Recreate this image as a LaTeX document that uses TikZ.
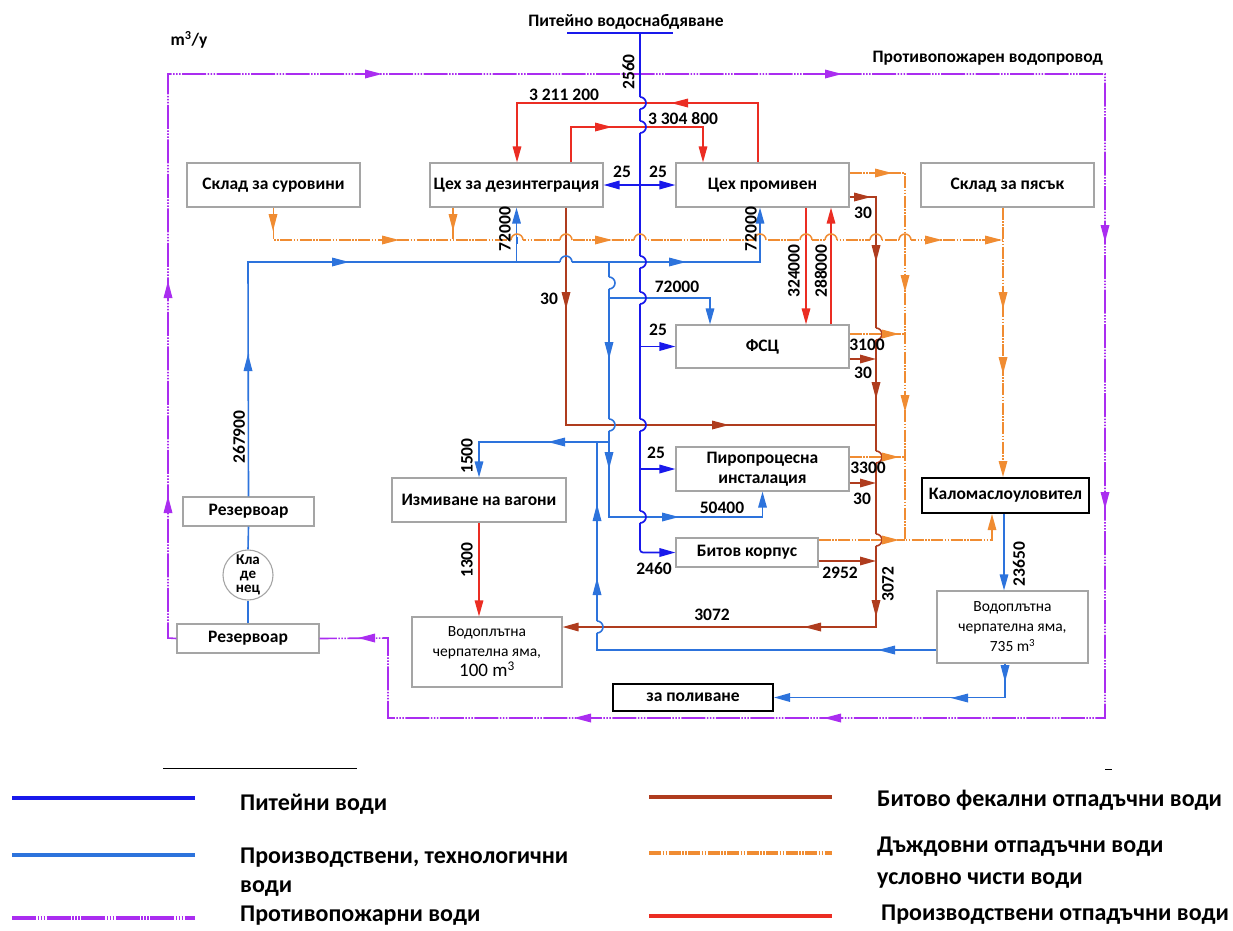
\documentclass[tikz,border=0pt]{standalone}
\usepackage{fontspec}
\setmainfont{Carlito}
\usetikzlibrary{arrows.meta}

\definecolor{cpot}{RGB}{25,25,235}
\definecolor{ctech}{RGB}{45,115,220}
\definecolor{cfire}{RGB}{170,45,240}
\definecolor{cfec}{RGB}{175,60,30}
\definecolor{crain}{RGB}{240,140,50}
\definecolor{cprod}{RGB}{235,45,35}
\definecolor{cbox}{RGB}{165,165,165}

\newcommand\diaglbl{\bfseries\fontsize{17.5}{19}\selectfont}
\newcommand\leglbl{\bfseries\fontsize{24}{29}\selectfont}

\tikzset{
  pot/.style={color=cpot, line width=1.7pt},
  tech/.style={color=ctech, line width=1.6pt},
  fire/.style={color=cfire, line width=1.6pt,
    dash pattern=on 24pt off 1.5pt on 1.5pt off 1.5pt on 1.5pt off 1.5pt on 1.5pt off 1.5pt},
  fec/.style={color=cfec, line width=1.6pt},
  rain/.style={color=crain, line width=1.5pt,
    dash pattern=on 12pt off 1.5pt on 1.5pt off 1.5pt on 1.5pt off 1.5pt},
  prod/.style={color=cprod, line width=1.5pt},
  ahead/.style={-{Triangle[length=16pt,width=8.5pt]}},
  unit/.style={draw=cbox, line width=1.1pt, fill=white, inner sep=0pt,
    minimum width=173pt, minimum height=44pt, font=\diaglbl},
  boldbox/.style={draw=black, line width=2pt, fill=white, inner sep=0pt, font=\diaglbl},
  pit/.style={draw=cbox, line width=1.1pt, fill=white, inner sep=0pt, align=center,
    font=\fontsize{15.5}{20}\selectfont},
  num/.style={inner sep=0pt, font=\diaglbl},
  legtext/.style={inner sep=0pt, anchor=west, align=left, font=\leglbl},
  pics/flowtip/.style={code={\fill (9,0) -- (-8,-4.5) -- (-8,4.5) -- cycle;}},
  pics/hopv/.style={code={
    \fill[white] (-2.5,-6) rectangle (2.5,6);
    \draw[#1, solid] (-3.5,0) -- (3.5,0);
    \draw[solid] (0,-6) arc[start angle=-90, end angle=90, radius=6];
  }},
  pics/hoph/.style={code={
    \fill[white] (-6,-2.5) rectangle (6,2.5);
    \draw[#1, solid] (0,-3.5) -- (0,3.5);
    \draw[solid] (-6,0) arc[start angle=180, end angle=360, radius=6];
  }},
}

\begin{document}
\begin{tikzpicture}[x=1pt, y=-1pt]
\useasboundingbox (0,0) rectangle (1233,930);

% units
\node[unit] (sklsur) at (273.5,185) {Склад за суровини};
\node[unit] (cdez) at (516.5,185) {Цех за дезинтеграция};
\node[unit] (cprom) at (762.5,185) {Цех промивен};
\node[unit] (sklpes) at (1007.5,185) {Склад за пясък};
\node[unit, minimum height=43pt] (fsc) at (762.5,346.5) {ФСЦ};
\node[unit, align=center, font=\bfseries\fontsize{17.5}{20}\selectfont] (piro) at (762.5,469) {Пиропроцесна\\инсталация};
\node[unit, minimum width=142pt, minimum height=29pt] (bitov) at (747,552.5) {Битов корпус};
\node[boldbox, minimum width=167pt, minimum height=35pt] (kalom) at (1005.5,495.5) {Каломаслоуловител};
\node[pit, minimum width=151pt, minimum height=72pt] (yama735) at (1012.5,627) {Водоплътна\\черпателна яма,\\735 m\textsuperscript{3}};
\node[boldbox, minimum width=160pt, minimum height=27pt] (poliv) at (693,697.5) {за поливане};
\node[pit, minimum width=150pt, minimum height=70pt] (yama100) at (487,652) {Водоплътна\\черпателна яма,\\{\fontsize{19}{19}\selectfont 100 m\textsuperscript{3}}};
\node[unit, minimum width=174pt] (vagoni) at (479,500) {Измиване на вагони};
\node[unit, minimum width=131pt, minimum height=29pt] (rez1) at (248.5,511.5) {Резервоар};
\node[circle, draw=cbox, line width=1.1pt, minimum size=50pt, inner sep=0pt, align=center,
  font=\bfseries\fontsize{15}{14}\selectfont] (klad) at (248,575) {Кла\\де\\нец};
\node[unit, minimum width=142pt, minimum height=29pt] (rez2) at (248,638.5) {Резервоар};

\coordinate (ptop) at (640,33);
\coordinate (tcorner) at (248,262);
\coordinate (tsplit) at (609,262);
\coordinate (fcol) at (876,627);

% fire water
\draw[fire] (rez2.west) -- (168,638) -- (168,74) -- (1105,74) -- (1105,718)
  -- (388,718) -- (388,638) -- (rez2.east);

% drinking water
\draw[pot] (567,33) -- (673,33);
\draw[pot, ahead, rounded corners=3pt] (ptop) |- (bitov.west);
\draw[pot, ahead] (ptop |- cdez.east) -- (cdez.east);
\draw[pot, ahead] (ptop |- cprom.west) -- (cprom.west);
\draw[pot, ahead] (ptop |- fsc.west) -- (fsc.west);
\draw[pot, ahead] (ptop |- piro.west) -- (piro.west);

% process water
\draw[tech] (rez2.north) -- (klad.south);
\draw[tech] (klad.north) -- (rez1.south);
\draw[tech, ahead] (rez1.north) -- (tcorner) -| (cprom.south -| 760,0);
\draw[tech, ahead] (tcorner -| cdez.south) -- (cdez.south);
\draw[tech, ahead] (tsplit) -- (609,517) -| (piro.south);
\draw[tech, ahead] (609,298) -| (fsc.north -| 710,0);
\draw[tech, ahead] (609,442) -| (vagoni.north);
\draw[tech] (yama735.west |- 0,650) -| (597,442);
\draw[tech, ahead] (kalom.south -| 1004,0) -- (yama735.north -| 1004,0);
\draw[tech, ahead] (yama735.south -| 1005,0) |- (poliv.east);

% process waste water
\draw[prod, ahead] (cprom.north -| 758,0) |- (517,103) -- (cdez.north -| 517,0);
\draw[prod, ahead] (cdez.north -| 571,0) |- (703,127) -- (cprom.north -| 703,0);
\draw[prod, ahead] (cprom.south -| 806,0) -- (fsc.north -| 806,0);
\draw[prod, ahead] (fsc.north -| 831,0) -- (cprom.south -| 831,0);
\draw[prod, ahead] (vagoni.south) -- (vagoni.south |- yama100.north);

% domestic sewage
\draw[fec] (cdez.south -| 566,0) |- (876,425);
\draw[fec, ahead] (cprom.east |- 0,197) -| (fcol) -- (fcol -| yama100.east);
\draw[fec, ahead] (fsc.east |- 0,359) -- (876,359);
\draw[fec, ahead] (piro.east |- 0,483) -- (876,483);
\draw[fec, ahead] (bitov.east |- 0,561) -- (876,561);

% rain water
\draw[rain] (sklsur.south) |- (1003,240);
\draw[rain] (cdez.south -| 453,0) -- (453,240);
\draw[rain, ahead] (cprom.east |- 0,173) -| (905,540) -| (kalom.south -| 992,0);
\draw[rain] (fsc.east |- 0,334) -- (905,334);
\draw[rain] (piro.east |- 0,457) -- (905,457);
\draw[rain] (bitov.east |- 0,540) -- (905,540);
\draw[rain, ahead] (sklpes.south -| 1003,0) -- (kalom.north -| 1003,0);

% line jumps
\pic[pot] at (640,103) {hopv=prod};
\pic[pot] at (640,127) {hopv=prod};
\pic[pot] at (640,262) {hopv=tech};
\pic[pot] at (640,298) {hopv=tech};
\pic[pot] at (640,425) {hopv=fec};
\pic[pot] at (640,517) {hopv=tech};
\pic[tech] at (609,283) {hopv=white};
\pic[tech] at (609,425) {hopv=fec};
\pic[tech] at (597,627) {hopv=fec};
\pic[fec] at (876,334) {hopv=rain};
\pic[fec] at (876,457) {hopv=rain};
\pic[fec] at (876,540) {hopv=rain};
\pic[tech] at (566,262) {hoph=fec};
\pic[rain] at (517,240) {hoph=tech};
\pic[rain] at (566,240) {hoph=fec};
\pic[rain] at (640,240) {hoph=pot};
\pic[rain] at (760,240) {hoph=tech};
\pic[rain] at (806,240) {hoph=prod};
\pic[rain] at (831,240) {hoph=prod};
\pic[rain] at (876,240) {hoph=fec};
\pic[rain] at (905,240) {hoph=rain};

% flow arrows
\foreach \p/\a in {{248,363}/90, {340,262}/0, {677,262}/0, {609,350}/-90, {609,460}/-90,
    {670,517}/0, {557,442}/180, {887,650}/180, {597,513}/90, {597,587}/90,
    {1005,673}/-90, {960,698}/180}
  \pic[tech, rotate=\a] at (\p) {flowtip};
\foreach \p/\a in {{680,103}/180, {603,127}/0}
  \pic[prod, rotate=\a] at (\p) {flowtip};
\foreach \p/\a in {{566,300}/-90, {720,425}/0, {862,197}/0, {876,253}/-90, {876,390}/-90,
    {876,608}/-90, {813,627}/180}
  \pic[fec, rotate=\a] at (\p) {flowtip};
\foreach \p/\a in {{273,222}/-90, {453,222}/-90, {390,240}/0, {603,240}/0, {933,240}/0,
    {993,240}/0, {883,173}/0, {905,283}/-90, {905,403}/-90, {890,334}/0, {890,457}/0,
    {890,540}/0, {1003,300}/-90, {1003,365}/-90}
  \pic[rain, rotate=\a] at (\p) {flowtip};
\foreach \p/\a in {{168,290}/90, {168,505}/90, {373,74}/0, {833,74}/0, {1105,233}/-90,
    {1105,500}/-90, {833,718}/180, {583,718}/180, {367,638}/180}
  \pic[fire, rotate=\a] at (\p) {flowtip};

% labels
\node[num] (title) at (626,22) {Питейно водоснабдяване};
\node[num] (units) at (189,40) {m\textsuperscript{3}/y};
\node[num, anchor=east] (firemain) at (1103,58) {Противопожарен водопровод};
\node[num, rotate=90] (n2560) at (628.5,72) {2560};
\node[num] (n25a) at (622,172) {25};
\node[num] (n25b) at (658,172) {25};
\node[num] (n3211) at (564,95) {3 211 200};
\node[num] (n3304) at (683,119) {3 304 800};
\node[num, rotate=90] (n72a) at (505,229) {72000};
\node[num, rotate=90] (n72b) at (751,229) {72000};
\node[num] (n30a) at (863,213) {30};
\node[num, rotate=90] (n324) at (794,271) {324000};
\node[num, rotate=90] (n288) at (821,271) {288000};
\node[num] (n72c) at (677,287) {72000};
\node[num] (n25c) at (658,330) {25};
\node[num] (n3100) at (867,345) {3100};
\node[num] (n30b) at (863,373) {30};
\node[num] (n25d) at (656,453) {25};
\node[num] (n3300) at (868,468) {3300};
\node[num] (n30c) at (862,499) {30};
\node[num] (n504) at (722,508) {50400};
\node[num] (n2460) at (654,569) {2460};
\node[num] (n2952) at (840,573) {2952};
\node[num, rotate=90] (n3072a) at (888,584) {3072};
\node[num] (n3072b) at (712,615) {3072};
\node[num, rotate=90] (n2365) at (1019,564) {23650};
\node[num] (n30d) at (549,299) {30};
\node[num, rotate=90] (n2679) at (239,437) {267900};
\node[num, rotate=90] (n1500) at (467,456) {1500};
\node[num, rotate=90] (n1300) at (467,560) {1300};

% legend
\draw[line width=0.8pt] (163,768) -- (357,768);
\draw[line width=0.8pt] (1105,769) -- (1112,769);
\draw[pot, line width=3.5pt] (12,798) -- (195,798);
\draw[tech, line width=3.5pt] (12,855) -- (195,855);
\draw[fire, line width=3.5pt] (12,918) -- (195,918);
\draw[fec, line width=3.5pt] (649,797) -- (832,797);
\draw[rain, line width=3.5pt] (649,853) -- (832,853);
\draw[prod, line width=3.5pt] (649,916) -- (832,916);
\node[legtext] (lpot) at (240,804) {Питейни води};
\node[legtext] (ltech) at (240,872) {Производствени, технологични\\води};
\node[legtext] (lfire) at (240,916) {Противопожарни води};
\node[legtext] (lfec) at (877,800) {Битово фекални отпадъчни води};
\node[legtext] (lrain) at (877,863) {Дъждовни отпадъчни води\\[3pt]условно чисти води};
\node[legtext] (lprod) at (881,915) {Производствени отпадъчни води};

\end{tikzpicture}
\end{document}
